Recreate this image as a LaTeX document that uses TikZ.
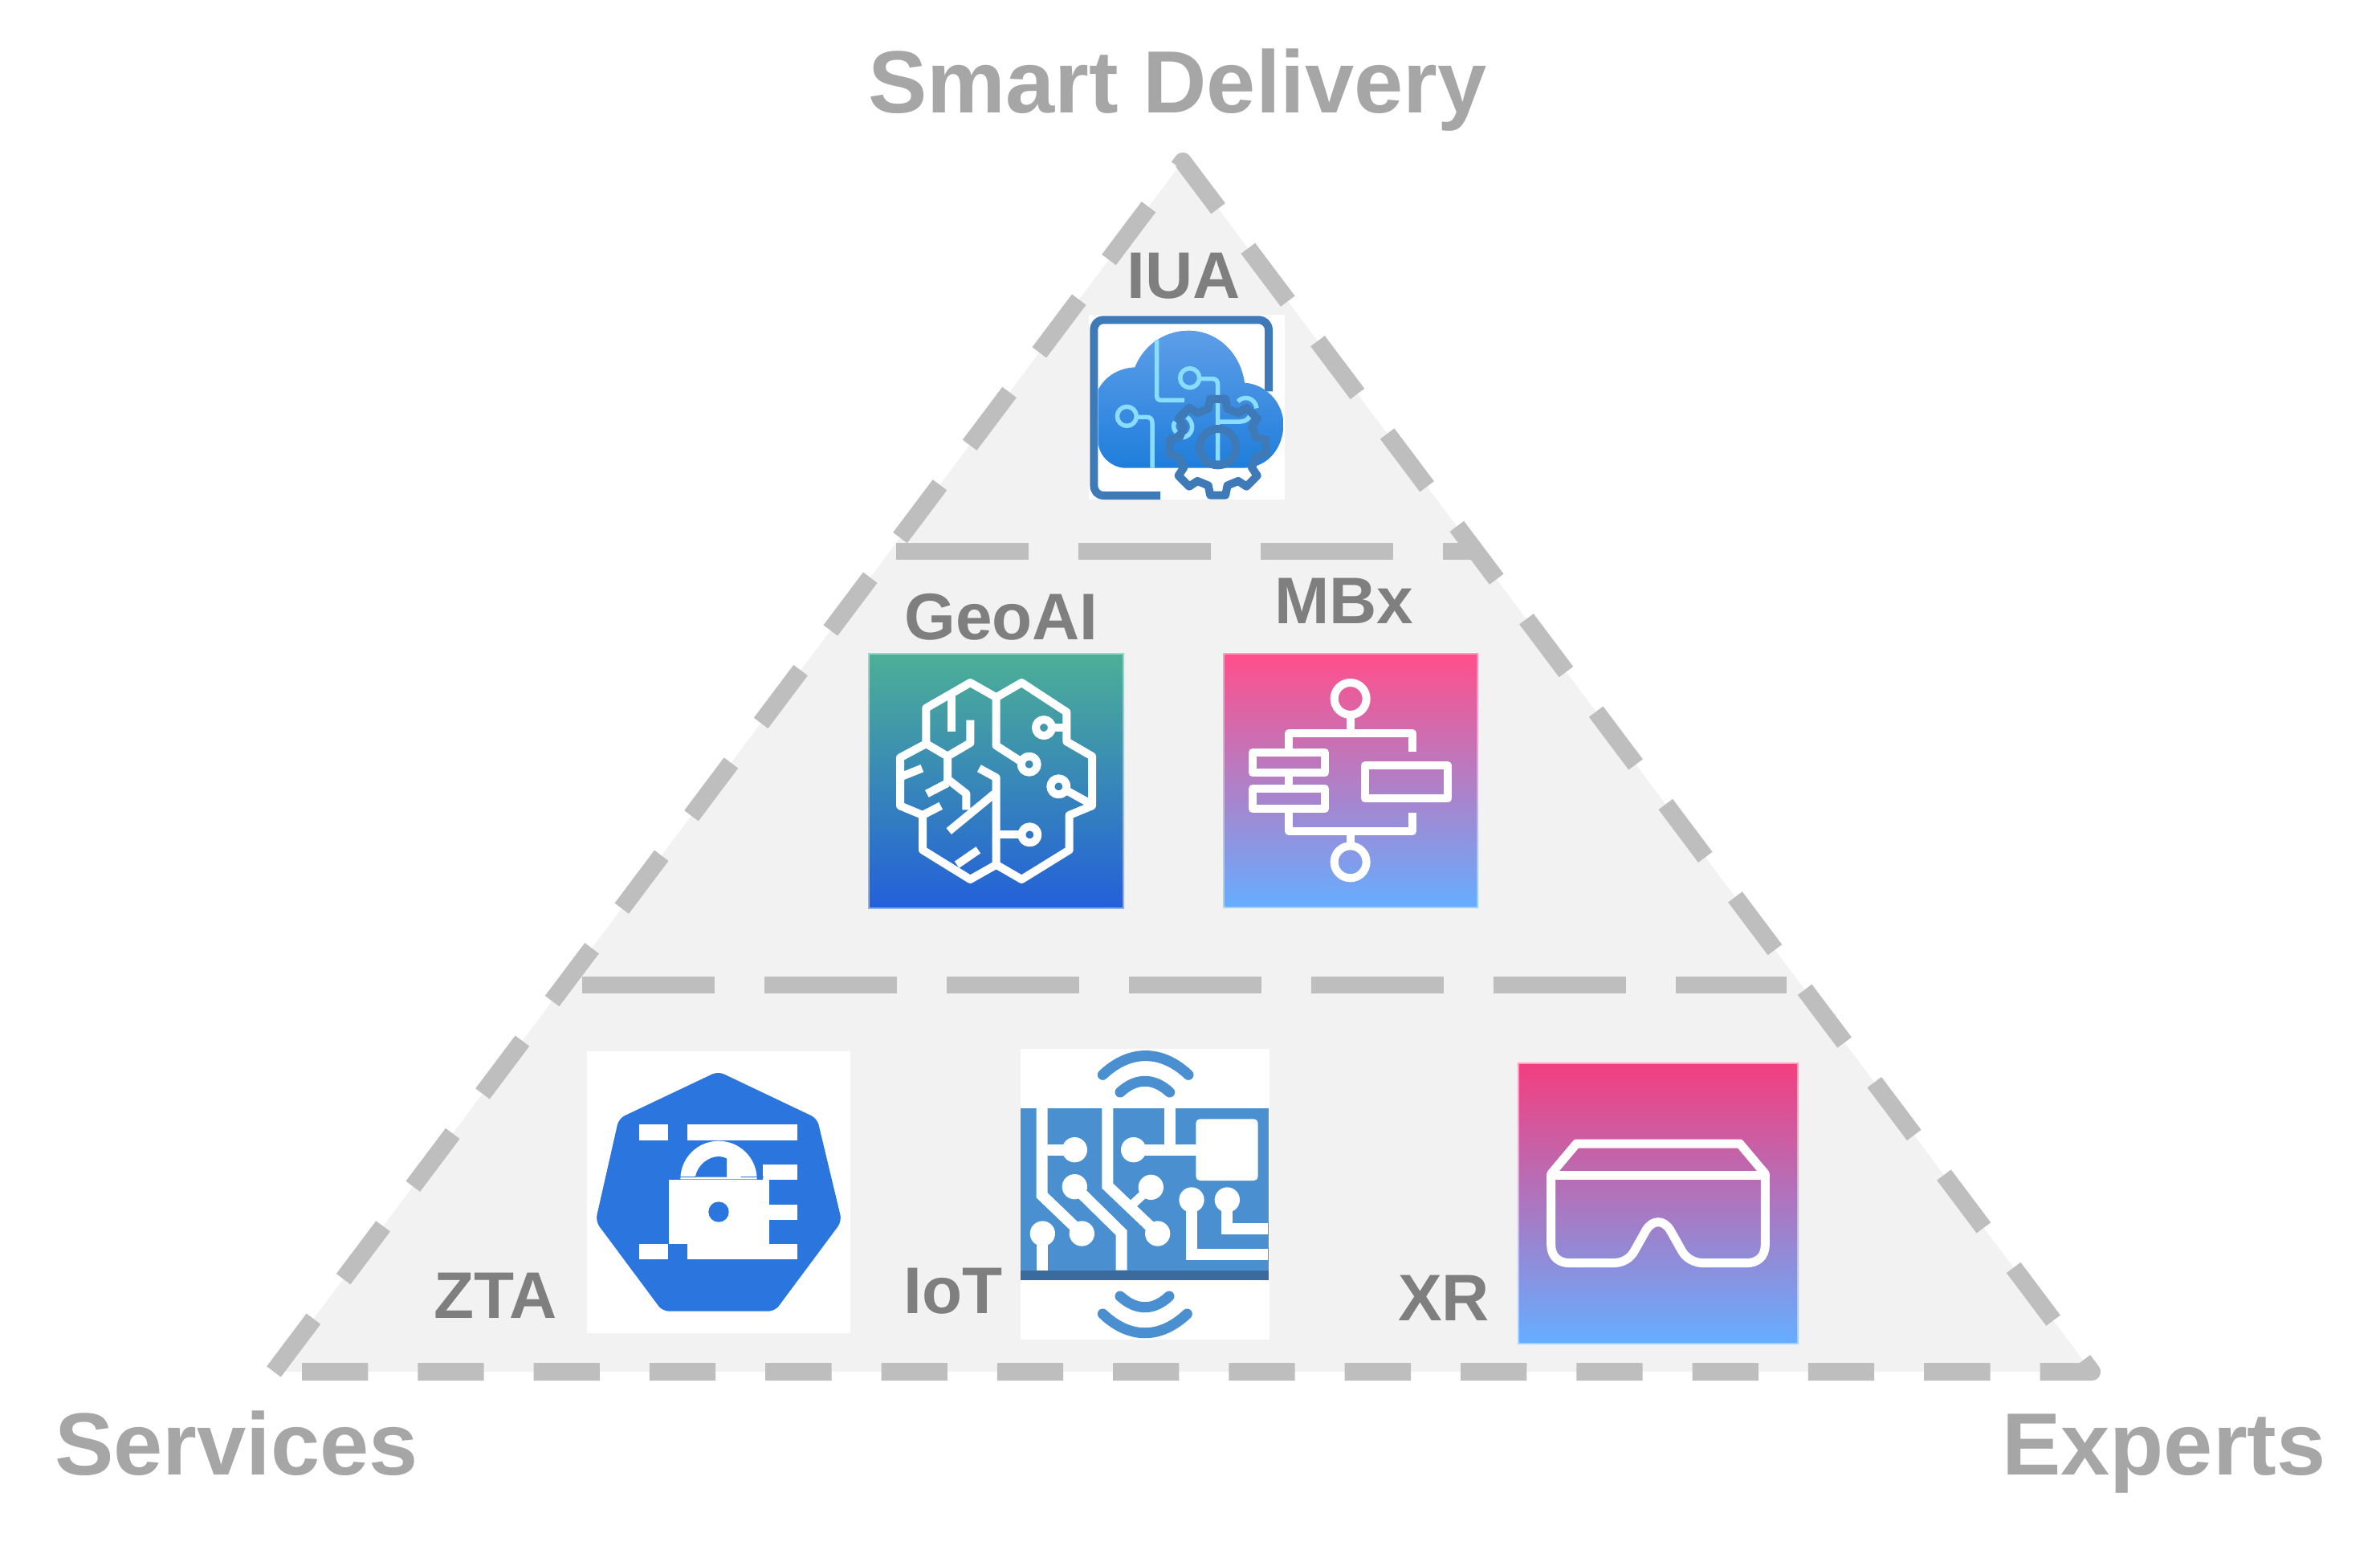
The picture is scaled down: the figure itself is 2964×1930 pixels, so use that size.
\documentclass[tikz,border=0pt]{standalone}
\usepackage{fontspec}
\setmainfont{Liberation Sans}
\definecolor{fillgray}{HTML}{F2F2F2}
\definecolor{dashgray}{HTML}{BEBEBE}
\definecolor{headgray}{HTML}{A6A6A6}
\definecolor{labelgray}{HTML}{7F7F7F}
\definecolor{frameblue}{HTML}{3F7AB8}
\definecolor{cloudtop}{HTML}{5E9EE8}
\definecolor{cloudbot}{HTML}{1F7EDC}
\definecolor{wirecyan}{HTML}{8ADDFF}
\definecolor{k8sblue}{HTML}{2A75DE}
\definecolor{iotblue}{HTML}{4A8FD0}
\definecolor{iotdark}{HTML}{3A6B9C}
\definecolor{pinktop}{HTML}{FF4F8B}
\definecolor{skybot}{HTML}{66ADFF}
\definecolor{pinkedge}{HTML}{FF9BBB}
\definecolor{skyedge}{HTML}{A0D4FF}
\definecolor{greentop}{HTML}{4CAF96}
\definecolor{bluebot}{HTML}{2360DA}
\definecolor{greenedge}{HTML}{90DCC8}
\definecolor{blueedge}{HTML}{90B0F0}
\definecolor{xrtop}{HTML}{F23F80}
\tikzset{
  zoomed/.style={x=0.33333pt,y=-0.33333pt},
  headtext/.style={inner sep=0pt,anchor=base west,text=headgray,font=\fontsize{110}{120}\selectfont\bfseries},
  labeltext/.style={inner sep=0pt,anchor=base west,text=labelgray,font=\fontsize{82}{90}\selectfont\bfseries},
  borderdash/.style={draw=dashgray,line width=22pt,line join=round,dash pattern=on 82.3pt off 62pt},
  tierdash/.style={draw=dashgray,line width=21pt,dash pattern=on 165pt off 62pt},
  whiteline/.style={draw=white,line width=10pt,line join=round},
  thinwhite/.style={draw=white,line width=11pt,line join=round},
  iotline/.style={draw=white,line width=14pt,line join=miter},
  iotarc/.style={draw=iotblue,line width=13pt,line cap=round},
  wire/.style={draw=wirecyan,line width=5.5pt,line join=round},
  gearline/.style={draw=frameblue,line width=10pt,line join=round},
}
\begin{document}
\begin{tikzpicture}[x=1pt,y=-1pt]
\useasboundingbox (0,0) rectangle (2964,1930);
\fill[white] (0,0) rectangle (2964,1930);

% triangle
\coordinate (bl) at (341,1708);
\coordinate (apex) at (1473,201);
\coordinate (br) at (2605,1708);
\fill[fillgray] (bl) -- (apex) -- (br) -- cycle;

% tier lines
\coordinate (t1a) at (1116,686);
\coordinate (t1b) at (1835,686);
\coordinate (t2a) at (725.3,1226);
\coordinate (t2b) at (2225,1226);
\draw[tierdash] (t1a) -- (t1b);
\draw[tierdash] (t2a) -- (t2b);
\draw[borderdash] (bl) -- (apex) -- (br) -- cycle;

% IUA icon
\begin{scope}[shift={(1300,360)},zoomed]
\fill[white] (168,96) rectangle (900,785);
\draw[frameblue,line width=10pt,line join=round] (435,771) -- (225,771) .. controls (200,771) and (187,755) .. (187,730) -- (187,155) .. controls (187,130) and (200,115) .. (225,115) -- (800,115) .. controls (825,115) and (840,130) .. (840,155) -- (840,382);
\shade[top color=cloudtop,bottom color=cloudbot]
  (300,668) .. controls (250,665) and (203,620) .. (203,570) -- (203,375)
  .. controls (230,325) and (280,295) .. (340,292)
  .. controls (375,205) and (455,155) .. (540,155)
  .. controls (650,155) and (735,240) .. (750,350)
  .. controls (830,355) and (895,425) .. (895,505)
  .. controls (895,590) and (840,665) .. (750,668) -- cycle;
\draw[wire] (422,190) -- (422,400) .. controls (422,412) and (430,415) .. (440,415) -- (525,415);
\draw[wire] (545,332) circle[radius=36];
\draw[wire] (580,335) -- (630,335) .. controls (645,335) and (650,345) .. (650,360) -- (650,640);
\draw[wire] (310,475) circle[radius=36];
\draw[wire] (346,478) -- (385,478) .. controls (400,478) and (405,488) .. (405,500) -- (405,668);
\draw[wire] (535,478) .. controls (565,500) and (560,550) .. (515,555);
\draw[wire] (490,495) .. controls (480,510) and (485,525) .. (495,535);
\draw[wire] (650,495) -- (735,495) .. controls (755,495) and (770,480) .. (770,470);
\draw[wire] (725,420) .. controls (745,395) and (790,405) .. (795,445);
\begin{scope}[shift={(650,590)}]
\draw[gearline] (-14:148) \foreach \a in {0,45,...,315} { -- ({\a-14}:148) -- ({\a-9}:182) -- ({\a+9}:182) -- ({\a+14}:148)} -- cycle;
\draw[gearline] (0,0) circle[radius=68];
\end{scope}
\end{scope}

% GeoAI icon
\begin{scope}[shift={(1060,800)},zoomed]
\shade[top color=greenedge,bottom color=blueedge] (63,40) rectangle (1020,995);
\shade[top color=greentop,bottom color=bluebot] (70,46) rectangle (1014,989);
\draw[whiteline] (542,205) -- (445,150) -- (280,245) -- (280,378) -- (183,430) -- (183,610) -- (267,645) -- (267,775) -- (445,885) -- (542,830) -- (637,885) -- (815,775) -- (815,645) -- (900,610) -- (900,425) -- (805,370) -- (805,260) -- (637,150) -- cycle;
\draw[whiteline] (542,205) -- (542,385) -- (635,445);
\draw[whiteline] (665,455) circle[radius=30];
\draw[whiteline] (542,830) -- (542,505) -- (478,470);
\draw[whiteline] (542,718) -- (635,718);
\draw[whiteline] (667,718) circle[radius=30];
\draw[whiteline] (805,318) -- (750,318);
\draw[whiteline] (720,318) circle[radius=30];
\draw[whiteline] (890,600) -- (805,553);
\draw[whiteline] (775,538) circle[radius=30];
\draw[whiteline] (375,195) -- (375,333);
\draw[whiteline] (445,290) -- (445,375) -- (360,425) -- (280,378);
\draw[whiteline] (360,425) -- (360,510) -- (430,565) -- (430,625);
\draw[whiteline] (360,525) -- (283,565);
\draw[whiteline] (190,500) -- (265,470);
\draw[whiteline] (267,645) -- (335,610);
\draw[whiteline] (365,705) -- (535,565);
\draw[whiteline] (395,830) -- (475,775);
\end{scope}

% MBx icon
\begin{scope}[shift={(1510,800)},zoomed]
\shade[top color=pinkedge,bottom color=skyedge] (40,40) rectangle (993,992);
\shade[top color=pinktop,bottom color=skybot] (47,46) rectangle (987,986);
\draw[whiteline] (515,210) circle[radius=60];
\draw[whiteline] (515,270) -- (515,340);
\draw[whiteline] (285,395) -- (285,340) -- (747,340) -- (747,408);
\draw[whiteline] (150,410) rectangle (420,487);
\draw[whiteline] (285,487) -- (285,545);
\draw[whiteline] (150,545) rectangle (420,622);
\draw[whiteline] (285,622) -- (285,705) -- (747,705) -- (747,635);
\draw[whiteline] (515,705) -- (515,760);
\draw[whiteline] (515,820) circle[radius=60];
\draw[whiteline] (570,460) rectangle (880,583);
\end{scope}

% ZTA icon
\begin{scope}[shift={(720,1300)},zoomed]
\fill[white] (33,27) rectangle (1017,1080);
\fill[k8sblue,rounded corners=8pt] (523,102) -- (893,278) -- (985,662) -- (735,998) -- (315,998) -- (65,662) -- (152,278) -- cycle;
\fill[white] (228,300) rectangle (335,360);
\fill[white] (407,300) rectangle (820,360);
\fill[white] (690,450) rectangle (820,507);
\fill[white] (713,600) rectangle (820,657);
\fill[white] (228,747) rectangle (335,805);
\fill[white] (407,747) rectangle (820,805);
\fill[white] (382,505) arc[start angle=180,end angle=360,radius=143] -- cycle;
\fill[k8sblue] (438,497) .. controls (445,450) and (490,420) .. (525,420) .. controls (535,420) and (545,422) .. (555,428) -- (555,497) -- cycle;
\draw[k8sblue,line width=1.2pt] (380,497) -- (440,497);
\draw[k8sblue,line width=1.2pt] (610,497) -- (692,497);
\fill[white] (340,507) rectangle (713,747);
\fill[k8sblue] (525,627) circle[radius=38];
\end{scope}

% IoT icon
\begin{scope}[shift={(1260,1300)},zoomed]
\fill[white] (33,17) rectangle (963,1103);
\fill[iotblue] (33,240) rectangle (960,848);
\fill[iotdark] (33,845) rectangle (960,882);
\draw[iotline] (113,240) -- (113,565) -- (262,708);
\draw[iotline] (113,395) -- (235,395);
\draw[iotline] (358,240) -- (358,530) -- (545,708);
\draw[iotline] (590,240) -- (590,395);
\draw[iotline] (455,395) -- (700,395);
\fill[white,rounded corners=5pt] (688,280) rectangle (920,510);
\draw[iotline,line width=11pt] (520,535) -- (450,600);
\draw[iotline] (235,533) -- (410,705) -- (410,845);
\draw[iotline] (115,708) -- (115,845);
\draw[iotline] (672,582) -- (672,785) -- (957,785);
\draw[iotline] (805,582) -- (805,690) -- (957,690);
\fill[white] (235,395) circle[radius=47];
\fill[white] (455,395) circle[radius=47];
\fill[white] (262,708) circle[radius=47];
\fill[white] (545,708) circle[radius=47];
\fill[white] (520,535) circle[radius=47];
\fill[white] (235,533) circle[radius=47];
\fill[white] (115,708) circle[radius=47];
\fill[white] (672,582) circle[radius=47];
\fill[white] (805,582) circle[radius=47];
\draw[iotarc] (340,115) .. controls (440,20) and (560,20) .. (660,115);
\draw[iotarc] (405,180) .. controls (465,125) and (530,125) .. (590,180);
\draw[iotarc] (340,1008) .. controls (440,1103) and (555,1103) .. (655,1008);
\draw[iotarc] (405,942) .. controls (465,997) and (530,997) .. (588,942);
\end{scope}

% XR icon
\begin{scope}[shift={(1880,1310)},zoomed]
\shade[top color=pinkedge,bottom color=skyedge] (30,40) rectangle (1080,1090);
\shade[top color=xrtop,bottom color=skybot] (37,47) rectangle (1073,1083);
\draw[thinwhite] (155,460) -- (955,460);
\draw[thinwhite] (155,455) -- (250,342) -- (860,342) -- (955,455) -- (955,720) .. controls (955,765) and (925,788) .. (885,788) -- (725,788) .. controls (690,788) and (660,770) .. (645,745) -- (600,665) .. controls (575,625) and (535,625) .. (510,665) -- (465,745) .. controls (450,770) and (425,788) .. (385,788) -- (225,788) .. controls (185,788) and (155,765) .. (155,720) -- cycle;
\end{scope}

% labels
\node[headtext] (smart) at (1081,140) {Smart Delivery};
\node[headtext] (services) at (68,1836) {Services};
\node[headtext] (experts) at (2493,1836) {Experts};
\node[labeltext] (iua) at (1403,371) {IUA};
\node[labeltext] (geoai) at (1126,796) {GeoAI};
\node[labeltext] (mbx) at (1587,776) {MBx};
\node[labeltext] (zta) at (540,1641) {ZTA};
\node[labeltext] (iot) at (1125,1635) {IoT};
\node[labeltext] (xr) at (1741,1644) {XR};
\end{tikzpicture}
\end{document}
